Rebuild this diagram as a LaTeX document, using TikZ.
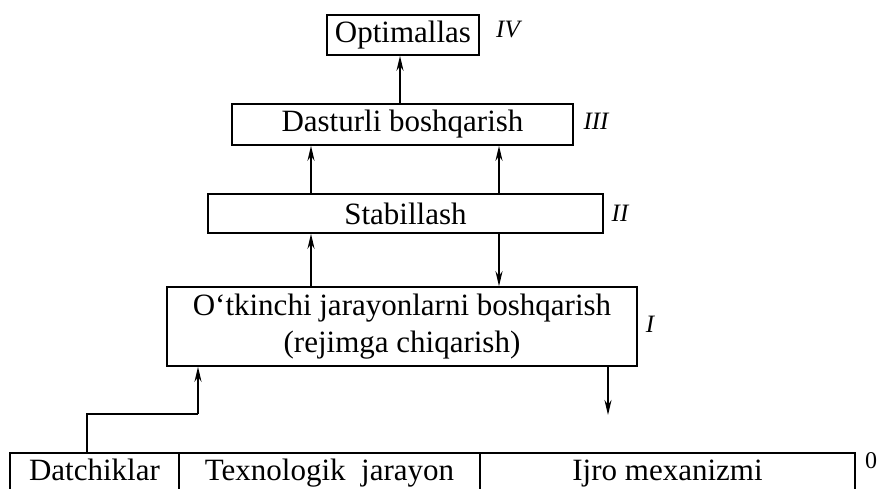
\documentclass[tikz,border=0pt]{standalone}
\usepackage{fontspec}
\setmainfont{Liberation Serif}
\usetikzlibrary{arrows.meta}
\begin{document}
\begin{tikzpicture}[x=1pt,y=-1pt,
  box/.style={draw, line width=1.6pt, inner sep=0pt, align=center,
    font=\fontsize{31}{37}\selectfont},
  cell/.style={box, minimum height=40pt, text height=21pt, text depth=7pt},
  lvl/.style={font=\fontsize{25}{27}\selectfont\itshape, inner sep=0pt},
  arr/.style={line width=2pt, -{Stealth[length=15pt,width=7pt]}},
  link/.style={line width=1.6pt}]
\useasboundingbox (0,0) rectangle (880,488);
\clip (0,0) rectangle (880,488);
% boxes
\node[box, minimum width=152pt, minimum height=40pt] (opt) at (403,35) {Optimallas};
\node[box, minimum width=341pt, minimum height=41pt] (dast) at (402.5,124.5) {Dasturli boshqarish};
\node[box, minimum width=395pt, minimum height=39pt] (stab) at (405.5,213.5) {Stabillash};
\node[box, minimum width=470pt, minimum height=79pt] (otk) at (402,326.5) {O‘tkinchi jarayonlarni boshqarish\\(rejimga chiqarish)};
\node[cell, minimum width=169pt] (dat) at (94.5,473) {Datchiklar};
\node[cell, minimum width=301pt] (tex) at (329.5,473) {Texnologik\ \ jarayon};
\node[cell, minimum width=375pt] (ijro) at (667.5,473) {Ijro mexanizmi};
% level labels
\node[lvl] (l4) at (508,30) {IV};
\node[lvl] (l3) at (596,121) {III};
\node[lvl] (l2) at (620,213) {II};
\node[lvl] (l1) at (650,324) {I};
\node[font=\fontsize{24}{26}\selectfont, inner sep=0pt] (l0) at (871,461) {0};
% connectors
\coordinate (xl) at (311,0);
\coordinate (xr) at (499,0);
\coordinate (xo) at (400,0);
\draw[arr] (dast.north -| xo) -- (opt.south -| xo);
\draw[arr] (stab.north -| xl) -- (dast.south -| xl);
\draw[arr] (stab.north -| xr) -- (dast.south -| xr);
\draw[arr] (otk.north -| xl) -- (stab.south -| xl);
\draw[arr] (stab.south -| xr) -- (otk.north -| xr);
\coordinate (k1) at (87,414);
\coordinate (k2) at (198,414);
\draw[link] (dat.north -| k1) -- (k1) -- (k2);
\draw[arr] (k2) -- (otk.south -| k2);
\coordinate (f) at (608,415);
\draw[arr] (otk.south -| f) -- (f);
\end{tikzpicture}
\end{document}
